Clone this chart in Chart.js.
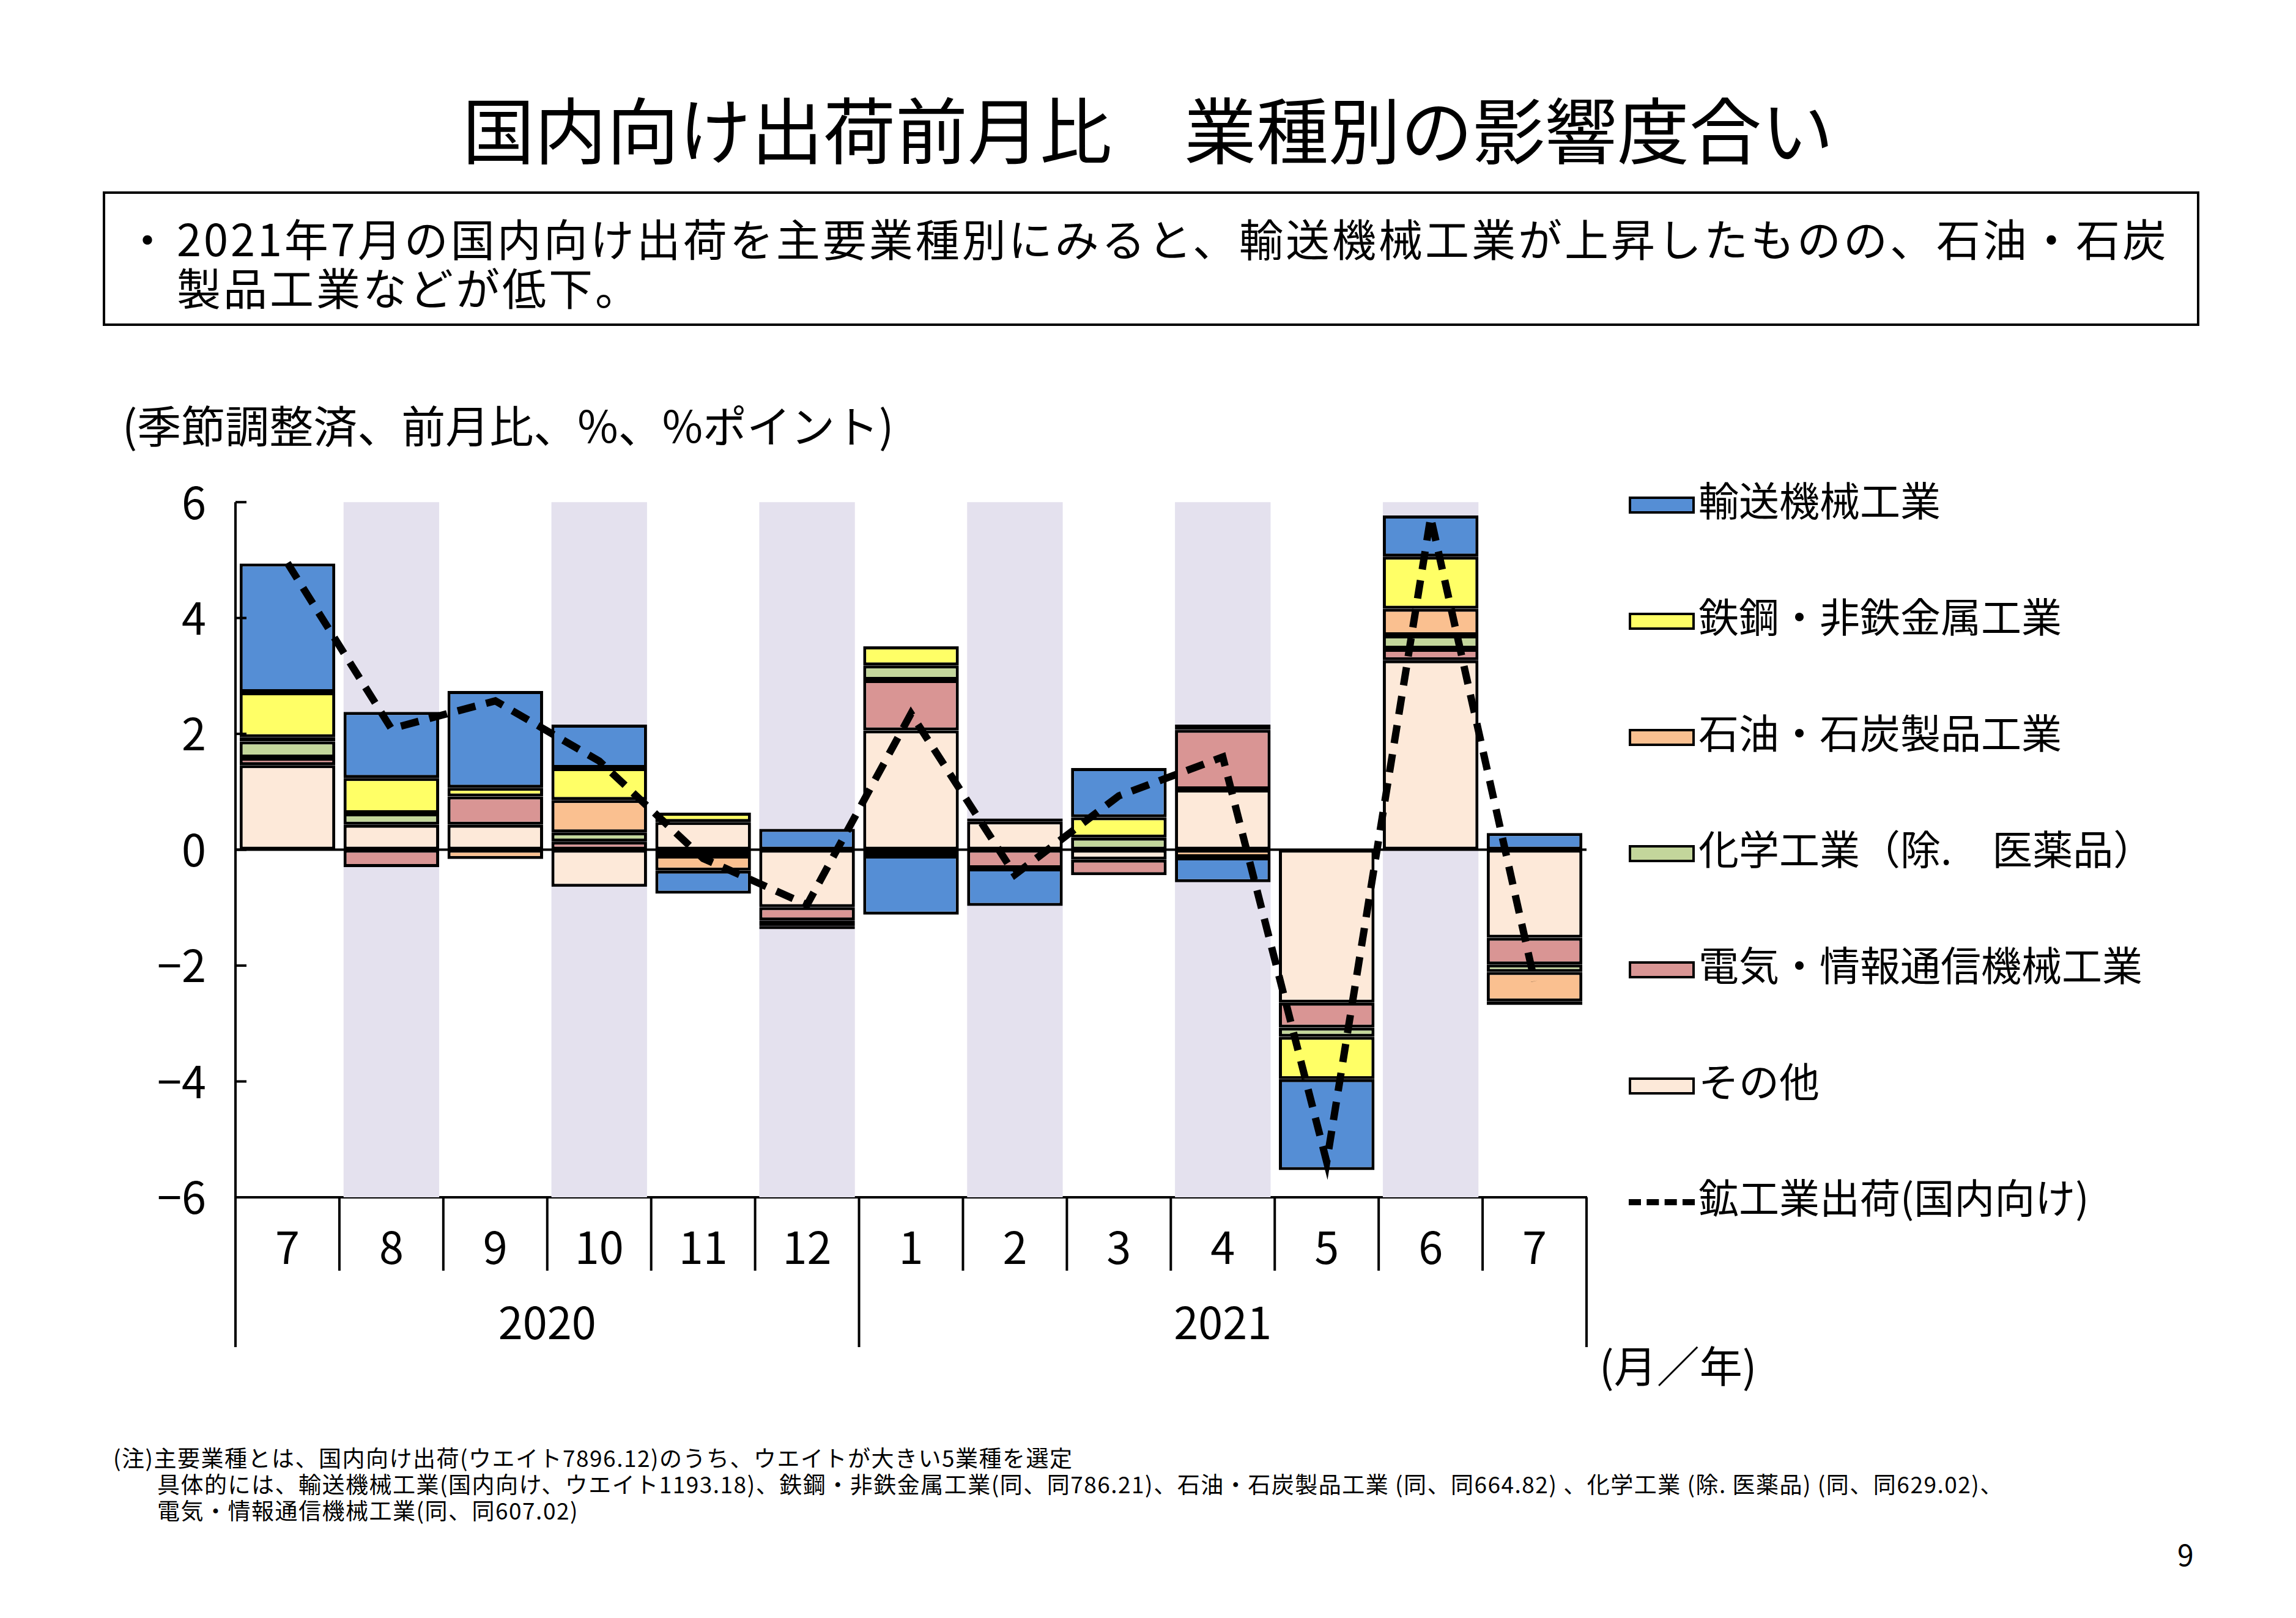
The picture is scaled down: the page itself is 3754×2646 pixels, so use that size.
<!DOCTYPE html>
<html lang="ja">
<head>
<meta charset="UTF-8">
<title>国内向け出荷前月比 業種別の影響度合い</title>
<script src="https://cdn.jsdelivr.net/npm/chart.js"></script>
<style>
  body { margin: 0; width: 3754px; height: 2646px; background: #fff; position: relative; overflow: hidden;
         font-family: "Noto Sans CJK JP", sans-serif; color: #000; }
  .abs { position: absolute; white-space: nowrap; }
  #title { left: 0; width: 3754px; top: 122px; text-align: center; font-size: 118px; }
  #box { left: 168px; top: 313px; width: 3428px; height: 220px; border: 4px solid #000; box-sizing: border-box; }
  .boxtxt { font-size: 72px; letter-spacing: 4px; }
  .note { font-size: 37px; letter-spacing: 1.5px; }
  .leg { left: 2663px; font-size: 66px; line-height: 80px; }
  .sw { display: inline-block; width: 108px; height: 28px; border: 4px solid #000; box-sizing: border-box; vertical-align: middle; margin-right: 6px; }
  .dash { display: inline-block; width: 108px; border-top: 10px dashed #000; vertical-align: middle; margin-right: 6px; }
  #wrap { position: absolute; left: 235px; top: 738px; width: 2400px; height: 1522px; }
</style>
</head>
<body>
<div id="title" class="abs">国内向け出荷前月比　業種別の影響度合い</div>
<div id="box" class="abs"></div>
<div class="abs boxtxt" style="left:205px;top:335px;">・</div>
<div class="abs boxtxt" style="left:289px;top:335px;">2021年7月の国内向け出荷を主要業種別にみると、輸送機械工業が上昇したものの、石油・石炭</div>
<div class="abs boxtxt" style="left:289px;top:415px;">製品工業などが低下。</div>
<div class="abs" style="left:200px;top:640px;font-size:72px;">(季節調整済、前月比、%、%ポイント)</div>

<div id="wrap"><canvas id="chart"></canvas></div>

<div id="legend"></div>
<div class="abs" style="left:2615px;top:2180px;font-size:70px;">(月／年)</div>

<div class="abs note" style="left:185px;top:2356px;">(注)主要業種とは、国内向け出荷(ウエイト7896.12)のうち、ウエイトが大きい5業種を選定</div>
<div class="abs note" style="left:257px;top:2399px;">具体的には、輸送機械工業(国内向け、ウエイト1193.18)、鉄鋼・非鉄金属工業(同、同786.21)、石油・石炭製品工業 (同、同664.82) 、化学工業 (除. 医薬品) (同、同629.02)、</div>
<div class="abs note" style="left:257px;top:2442px;">電気・情報通信機械工業(同、同607.02)</div>
<div class="abs" style="left:3560px;top:2505px;font-size:48px;">9</div>

<script>
// データ（2020年7月〜2021年7月）
const months = ['7', '8', '9', '10', '11', '12', '1', '2', '3', '4', '5', '6', '7'];
const years = [{ label: '2020', from: 0, to: 5 }, { label: '2021', from: 6, to: 12 }];

const other     = [1.46, 0.43, 0.43, -0.64, 0.48, -0.99, 2.06, 0.49, -0.17, 1.04, -2.64, 3.27, -1.52];
const electric  = [0.13, -0.30, 0.49, 0.14, 0.00, -0.23, 0.87, -0.32, -0.27, 1.03, -0.43, 0.20, -0.46];
const chemical  = [0.28, 0.20, 0.00, 0.16, -0.10, -0.10, 0.25, 0.00, 0.21, 0.00, -0.16, 0.23, -0.13];
const petroleum = [0.07, 0.00, -0.16, 0.56, -0.26, -0.05, -0.10, 0.00, 0.00, -0.13, 0.00, 0.46, -0.51];
const steel     = [0.78, 0.61, 0.15, 0.55, 0.16, 0.00, 0.33, 0.05, 0.35, 0.09, -0.73, 0.90, -0.06];
const transport = [2.22, 1.14, 1.67, 0.75, -0.40, 0.36, -1.02, -0.65, 0.85, -0.43, -1.57, 0.71, 0.29];
const total     = [4.95, 2.09, 2.57, 1.53, -0.15, -0.95, 2.35, -0.43, 0.93, 1.60, -5.39, 5.74, -2.27];

const yTicks = [-6, -4, -2, 0, 2, 4, 6];
const shaded = [1, 3, 5, 7, 9, 11];

const series = [
    { label: '輸送機械工業', data: transport, color: '#558ed5' },
    { label: '鉄鋼・非鉄金属工業', data: steel, color: '#ffff66' },
    { label: '石油・石炭製品工業', data: petroleum, color: '#fac090' },
    { label: '化学工業（除.　医薬品）', data: chemical, color: '#c3d69b' },
    { label: '電気・情報通信機械工業', data: electric, color: '#d99594' },
    { label: 'その他', data: other, color: '#fde9d9' }
];

// 凡例（HTML）
const legendTops = [775, 965, 1155, 1345, 1535, 1725, 1915];
let html = '';
series.forEach((s, i) => {
    html += `<div class="abs leg" style="top:${legendTops[i]}px"><span class="sw" style="background:${s.color}"></span>${s.label}</div>`;
});
html += `<div class="abs leg" style="top:${legendTops[6]}px"><span class="dash"></span>鉱工業出荷(国内向け)</div>`;
document.getElementById('legend').innerHTML = html;

const BAR_PCT = 0.92;

// 背景の網掛けと区切り線
const decorPlugin = {
    id: 'decor',
    beforeDatasetsDraw(chart) {
        const { ctx, chartArea, scales } = chart;
        const w = (scales.x.getPixelForValue(1) - scales.x.getPixelForValue(0)) * BAR_PCT;
        ctx.save();
        ctx.fillStyle = '#e4e1ee';
        shaded.forEach(i => {
            const cx = scales.x.getPixelForValue(i);
            ctx.fillRect(cx - w / 2, chartArea.top, w, chartArea.bottom - chartArea.top);
        });
        ctx.restore();
    },
    afterDatasetsDraw(chart) {
        const { ctx, chartArea, scales } = chart;
        const x = scales.x, y = scales.y;
        const step = x.getPixelForValue(1) - x.getPixelForValue(0);
        ctx.save();
        ctx.strokeStyle = '#000';
        ctx.lineWidth = 4;
        // ゼロ線
        const y0 = y.getPixelForValue(0);
        ctx.beginPath(); ctx.moveTo(chartArea.left, y0); ctx.lineTo(chartArea.right, y0); ctx.stroke();
        // 目盛（内向き）
        yTicks.forEach(v => {
            const py = y.getPixelForValue(v);
            ctx.beginPath(); ctx.moveTo(chartArea.left, py); ctx.lineTo(chartArea.left + 18, py); ctx.stroke();
        });
        // 左軸を下へ延長、月の区切り、年の区切り
        const b = chartArea.bottom;
        ctx.beginPath(); ctx.moveTo(chartArea.left, chartArea.top); ctx.lineTo(chartArea.left, b + 245); ctx.stroke();
        ctx.beginPath(); ctx.moveTo(chartArea.right, b); ctx.lineTo(chartArea.right, b + 245); ctx.stroke();
        for (let i = 0; i < months.length - 1; i++) {
            const px = x.getPixelForValue(i) + step / 2;
            const yearBreak = years.some(g => g.to === i);
            ctx.beginPath(); ctx.moveTo(px, b); ctx.lineTo(px, b + (yearBreak ? 245 : 120)); ctx.stroke();
        }
        ctx.fillStyle = '#000';
        ctx.font = '72px "Noto Sans CJK JP"';
        ctx.textAlign = 'center';
        ctx.textBaseline = 'middle';
        years.forEach(g => {
            const cx = (x.getPixelForValue(g.from) - step / 2 + x.getPixelForValue(g.to) + step / 2) / 2;
            ctx.fillText(g.label, cx, b + 205);
        });
        ctx.restore();
    }
};

const datasets = series.slice().reverse().map(s => ({
    type: 'bar',
    label: s.label,
    data: s.data,
    backgroundColor: s.color,
    borderColor: '#000',
    borderWidth: 5,
    borderSkipped: false,
    stack: 's',
    barPercentage: BAR_PCT,
    categoryPercentage: 1,
    order: 2
}));
datasets.push({
    type: 'line',
    label: '鉱工業出荷(国内向け)',
    data: total,
    borderColor: '#000',
    borderWidth: 12,
    borderDash: [30, 18],
    pointRadius: 0,
    tension: 0,
    order: 0
});

new Chart(document.getElementById('chart'), {
    data: { labels: months, datasets },
    options: {
        responsive: true,
        maintainAspectRatio: false,
        animation: false,
        layout: { padding: { top: 25, right: 41, bottom: 2, left: 0 } },
        plugins: { legend: { display: false }, tooltip: { enabled: false } },
        scales: {
            x: {
                stacked: true,
                grid: { display: false },
                border: { display: true, color: '#000', width: 4 },
                ticks: { color: '#000', font: { size: 72, family: 'Noto Sans CJK JP' }, padding: 30 },
                afterFit: s => { s.height = 300; }
            },
            y: {
                stacked: true,
                min: -6, max: 6,
                grid: { display: false },
                border: { display: false },
                ticks: {
                    stepSize: 2, color: '#000', padding: 40,
                    font: { size: 72, family: 'Noto Sans CJK JP' },
                    callback: v => String(v).replace('-', '−')
                },
                afterFit: s => { s.width = 150; }
            }
        }
    },
    plugins: [decorPlugin]
});
</script>
</body>
</html>
